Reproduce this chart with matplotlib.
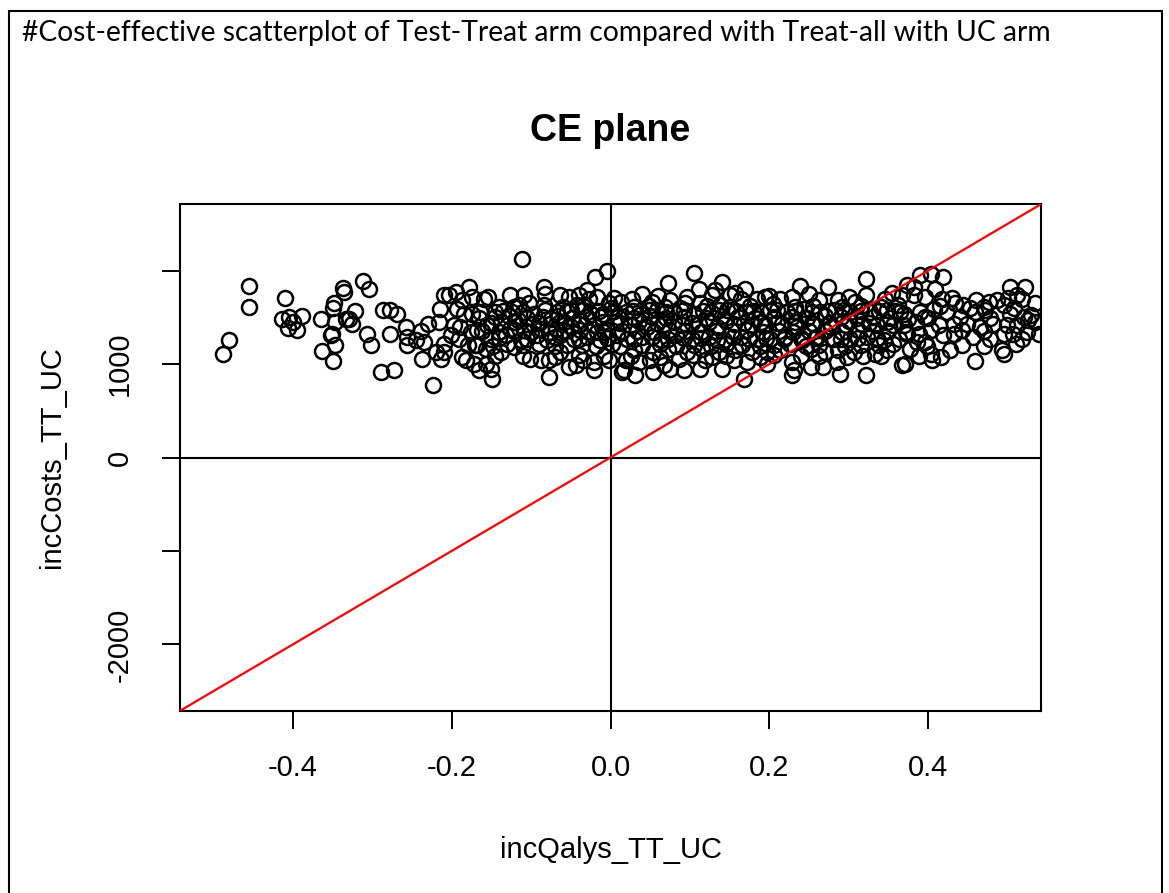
import matplotlib
matplotlib.use("Agg")
import matplotlib.pyplot as plt
from matplotlib.patches import Rectangle

# incremental QALYs / costs (left to right, band by band)
inc_qalys_left = [-0.455, -0.455, -0.480, -0.488, -0.410, -0.413, -0.405, -0.400, -0.406, -0.395,
                  -0.388, -0.365, -0.348, -0.349, -0.337, -0.335, -0.347, -0.351, -0.352, -0.347,
                  -0.363, -0.350, -0.333,
                  -0.312, -0.304, -0.322, -0.329, -0.325, -0.307, -0.302, -0.289, -0.273, -0.287,
                  -0.277, -0.269, -0.277, -0.258, -0.256, -0.256, -0.245, -0.238, -0.235, -0.237,
                  -0.230, -0.224, -0.220, -0.214, -0.215, -0.216, -0.210, -0.203, -0.195, -0.178,
                  -0.187, -0.193, -0.185, -0.174, -0.164, -0.197, -0.189, -0.201, -0.191, -0.176,
                  -0.168, -0.180, -0.170, -0.210, -0.187, -0.182, -0.172, -0.166, -0.159, -0.210]
inc_costs_left = [1836, 1605, 1262, 1112, 1708, 1479, 1504, 1450, 1386, 1369,
                  1515, 1479, 1648, 1600, 1815, 1766, 1450, 1326, 1315, 1201,
                  1136, 1029, 1479,
                  1890, 1798, 1568, 1479, 1433, 1326, 1208, 914, 940, 1583,
                  1583, 1540, 1326, 1397, 1290, 1201, 1254, 1351, 1236, 1058,
                  1433, 772, 1129, 1058, 1594, 1450, 1737, 1737, 1772, 1826,
                  1683, 1594, 1540, 1540, 1558, 1415, 1397, 1308, 1272, 1343,
                  1361, 1201, 1201, 1219, 1075, 1040, 1004, 933, 1701, 1129]

inc_qalys_mid = [-0.111, -0.019, -0.005, -0.154, -0.126, -0.109, -0.084, -0.082, -0.063, -0.052,
                 -0.030, -0.027, -0.017, -0.145, -0.122, -0.103, -0.084, -0.042, -0.002, 0.013,
                 -0.155, -0.138, -0.117, -0.098, -0.075, -0.059, -0.038, -0.021, 0.004, -0.151,
                 -0.132, -0.113, -0.092, -0.080, -0.063, -0.046, -0.029, -0.013, 0.008, -0.157,
                 -0.138, -0.122, -0.101, -0.088, -0.078, -0.063, -0.052, -0.044, -0.034, -0.021,
                 -0.002, -0.021, 0.015, -0.157, -0.151, -0.149, -0.078, -0.141, -0.126, -0.109,
                 -0.088, -0.069, -0.050, -0.038, -0.017, -0.004, -0.124, -0.096, -0.067, -0.050,
                 -0.025, -0.010,
                 0.105, 0.073, 0.111, 0.141, 0.132, 0.128, 0.157, 0.169, 0.164, 0.027,
                 0.052, 0.075, 0.096, 0.094, 0.113, 0.138, 0.185, 0.019, 0.038, 0.059,
                 0.080, 0.105, 0.126, 0.147, 0.170, 0.189, 0.025, 0.046, 0.067, 0.090,
                 0.111, 0.134, 0.155, 0.178, 0.021, 0.040, 0.063, 0.082, 0.103, 0.124,
                 0.143, 0.164, 0.185, 0.029, 0.054, 0.073, 0.096, 0.115, 0.136, 0.157,
                 0.178, 0.019, 0.036, 0.050, 0.067, 0.086, 0.119, 0.155, 0.172, 0.031,
                 0.054, 0.075, 0.092, 0.113, 0.141, 0.168, 0.017]
inc_costs_mid = [2123, 1926, 1994, 1718, 1737, 1737, 1826, 1744, 1737, 1718,
                 1790, 1701, 1718, 1558, 1611, 1648, 1629, 1629, 1648, 1665,
                 1415, 1450, 1469, 1433, 1487, 1450, 1469, 1415, 1450, 1272,
                 1308, 1254, 1308, 1254, 1308, 1272, 1290, 1254, 1308, 1165,
                 1129, 1182, 1058, 1040, 1040, 1129, 968, 986, 1040, 1022,
                 1040, 933, 914, 1004, 951, 844, 861, 1343, 1380, 1361,
                 1380, 1380, 1397, 1361, 1343, 1361, 1558, 1540, 1558, 1576,
                 1540, 1540,
                 1976, 1862, 1808, 1873, 1790, 1737, 1755, 1808, 1701, 1701,
                 1665, 1683, 1718, 1648, 1648, 1629, 1701, 1558, 1540, 1576,
                 1558, 1540, 1558, 1576, 1558, 1558, 1415, 1397, 1433, 1415,
                 1433, 1397, 1433, 1415, 1272, 1290, 1254, 1308, 1272, 1290,
                 1254, 1290, 1272, 1147, 1129, 1165, 1129, 1165, 1129, 1147,
                 1129, 1040, 1022, 1040, 986, 1058, 1040, 1040, 1022, 879,
                 914, 951, 933, 943, 943, 836, 933]

inc_qalys_right = [0.239, 0.274, 0.322, 0.322, 0.354, 0.195, 0.214, 0.229, 0.262, 0.287,
                   0.308, 0.201, 0.222, 0.243, 0.264, 0.283, 0.302, 0.327, 0.348, 0.365,
                   0.195, 0.216, 0.235, 0.256, 0.277, 0.296, 0.317, 0.335, 0.356, 0.201,
                   0.220, 0.241, 0.260, 0.281, 0.302, 0.323, 0.344, 0.363, 0.197, 0.214,
                   0.252, 0.270, 0.287, 0.306, 0.333, 0.348, 0.197, 0.229, 0.252, 0.268,
                   0.285, 0.231, 0.229, 0.289, 0.322,
                   0.390, 0.403, 0.419, 0.373, 0.382, 0.409, 0.503, 0.522, 0.512, 0.518,
                   0.535, 0.367, 0.382, 0.396, 0.417, 0.434, 0.444, 0.476, 0.486, 0.495,
                   0.369, 0.390, 0.407, 0.424, 0.459, 0.472, 0.503, 0.530, 0.369, 0.384,
                   0.396, 0.413, 0.432, 0.449, 0.465, 0.482, 0.499, 0.512, 0.526, 0.535,
                   0.373, 0.388, 0.403, 0.419, 0.432, 0.457, 0.478, 0.495, 0.507, 0.518,
                   0.539, 0.386, 0.396, 0.377, 0.403, 0.405, 0.428, 0.493, 0.495, 0.459,
                   0.371, 0.367]
inc_costs_right = [1836, 1819, 1908, 1737, 1755, 1718, 1701, 1718, 1683, 1683,
                   1665, 1576, 1558, 1594, 1558, 1576, 1558, 1558, 1576, 1558,
                   1415, 1433, 1397, 1433, 1397, 1415, 1433, 1415, 1415, 1272,
                   1290, 1254, 1290, 1272, 1272, 1290, 1254, 1272, 1129, 1147,
                   1165, 1129, 1147, 1129, 1112, 1147, 1004, 1022, 968, 968,
                   1022, 933, 879, 897, 879,
                   1951, 1959, 1933, 1844, 1826, 1808, 1826, 1826, 1737, 1701,
                   1648, 1737, 1737, 1718, 1701, 1648, 1629, 1665, 1683, 1629,
                   1540, 1558, 1594, 1558, 1558, 1576, 1540, 1522, 1415, 1450,
                   1504, 1415, 1433, 1433, 1397, 1433, 1415, 1415, 1469, 1450,
                   1326, 1326, 1361, 1308, 1326, 1290, 1272, 1326, 1326, 1272,
                   1326, 1236, 1236, 1165, 1112, 1040, 1147, 1147, 1112, 1029,
                   1004, 986]

# the solid-looking core of the cloud, where single circles cannot be told apart
inc_qalys_core = [-0.140, -0.115, -0.060, -0.035, 0.000, 0.030, 0.048, 0.068, 0.088, 0.122,
                  0.150, 0.176, 0.205, 0.232, 0.255, 0.292, 0.315, 0.340, 0.362, 0.415,
                  0.452, 0.470, 0.508,
                  -0.165, -0.145, -0.128, -0.105, -0.085, -0.066, -0.048, -0.030, -0.012, 0.010,
                  0.030, 0.050, 0.070, 0.092, 0.120, 0.140, 0.160, 0.182, 0.206, 0.228,
                  0.248, 0.270, 0.290, 0.310, 0.330, 0.352, 0.375, 0.400, 0.440, 0.478,
                  0.520,
                  -0.162, -0.120, -0.100, -0.078, -0.058, -0.028, -0.008, 0.014, 0.033, 0.055,
                  0.074, 0.094, 0.114, 0.133, 0.153, 0.172, 0.192, 0.212, 0.230, 0.250,
                  0.270, 0.292, 0.312, 0.330, 0.350, 0.372, 0.442, 0.470, 0.525,
                  -0.168, -0.148, -0.130, -0.110, -0.090, -0.070, -0.055, -0.036, -0.018, 0.002,
                  0.012, 0.040, 0.062, 0.083, 0.105, 0.126, 0.146, 0.166, 0.188, 0.206,
                  0.226, 0.246, 0.262, 0.295, 0.315, 0.338, 0.356, 0.398, 0.442, 0.470,
                  0.510,
                  -0.145, -0.110, -0.070, -0.040, -0.008, 0.026, 0.062, 0.104, 0.128, 0.146,
                  0.188, 0.206, 0.240, 0.262, 0.298, 0.318, 0.340, 0.388, 0.416,
                  -0.175, -0.040, 0.005, 0.040, 0.060, 0.150, 0.200, 0.250, 0.300, 0.345,
                  0.430, 0.460, 0.500,
                  -0.150, -0.120, -0.090, -0.064, -0.040, -0.010, 0.012, 0.036, 0.058, 0.080,
                  0.102, 0.124, 0.146, 0.168, 0.190, 0.210, 0.232, 0.254, 0.276, 0.300,
                  0.325, 0.348,
                  -0.140, -0.105, -0.070, -0.040, -0.005, 0.030, 0.052, 0.072, 0.092, 0.114,
                  0.134, 0.154, 0.174, 0.196, 0.218, 0.240, 0.258, 0.290, 0.312, 0.335,
                  -0.135, -0.110, -0.082, -0.055, -0.035, -0.015, 0.005, 0.028, 0.048, 0.070,
                  0.092, 0.116, 0.136, 0.158, 0.180, 0.210, 0.232, 0.254, 0.274, 0.294,
                  0.315, 0.338, 0.358]
inc_costs_core = [1615, 1630, 1605, 1620, 1600, 1612, 1625, 1608, 1598, 1618,
                  1606, 1622, 1640, 1612, 1624, 1610, 1618, 1605, 1630, 1620,
                  1600, 1612, 1595,
                  1495, 1505, 1510, 1488, 1500, 1515, 1492, 1508, 1498, 1502,
                  1490, 1512, 1496, 1505, 1492, 1510, 1498, 1488, 1506, 1500,
                  1494, 1512, 1502, 1490, 1508, 1496, 1485, 1492, 1500, 1488,
                  1505,
                  1350, 1360, 1345, 1342, 1355, 1348, 1340, 1358, 1352, 1345,
                  1362, 1350, 1340, 1356, 1348, 1362, 1345, 1352, 1340, 1358,
                  1350, 1345, 1360, 1348, 1355, 1342, 1360, 1350, 1345,
                  1205, 1195, 1210, 1200, 1215, 1192, 1208, 1202, 1196, 1210,
                  1188, 1205, 1212, 1198, 1204, 1195, 1210, 1200, 1190, 1208,
                  1215, 1198, 1204, 1192, 1206, 1200, 1212, 1198, 1205, 1195,
                  1210,
                  1085, 1090, 1078, 1095, 1082, 1088, 1075, 1092, 1080, 1086,
                  1078, 1094, 1082, 1088, 1076, 1090, 1082, 1086, 1080,
                  1720, 1735, 1710, 1745, 1725, 1740, 1730, 1745, 1720, 1700,
                  1710, 1690, 1705,
                  1440, 1452, 1436, 1445, 1430, 1448, 1438, 1455, 1442, 1450,
                  1435, 1446, 1458, 1440, 1448, 1436, 1452, 1444, 1438, 1456,
                  1442, 1448,
                  1280, 1270, 1285, 1265, 1278, 1272, 1286, 1268, 1280, 1275,
                  1262, 1284, 1270, 1278, 1266, 1282, 1274, 1268, 1280, 1276,
                  1570, 1560, 1575, 1565, 1580, 1562, 1572, 1568, 1578, 1560,
                  1574, 1566, 1582, 1564, 1570, 1576, 1568, 1560, 1572, 1580,
                  1566, 1570, 1562]

inc_qalys = inc_qalys_left + inc_qalys_mid + inc_qalys_right + inc_qalys_core
inc_costs = inc_costs_left + inc_costs_mid + inc_costs_right + inc_costs_core
assert len(inc_qalys) == len(inc_costs)

wtp = 5000  # slope of the threshold line
x_lim = (-0.542, 0.542)
y_lim = (-2712, 2712)
y_ticks = [-2000, -1000, 0, 1000, 2000]
y_tick_labels = ["-2000", "", "0", "1000", ""]
x_ticks = [-0.4, -0.2, 0.0, 0.2, 0.4]
x_tick_labels = ["-0.4", "-0.2", "0.0", "0.2", "0.4"]

W, H = 1169, 893
fig = plt.figure(figsize=(W / 100, H / 100), dpi=100)
ax = fig.add_axes([180 / W, 1 - 711 / H, (1041 - 180) / W, (711 - 204) / H])

ax.plot(inc_qalys, inc_costs, linestyle="none", marker="o", markersize=10.8,
        markerfacecolor="none", markeredgecolor="black", markeredgewidth=1.8, zorder=2)
ax.axvline(0, color="black", lw=1.5, zorder=3)
ax.axhline(0, color="black", lw=1.5, zorder=3)
ax.axline((0, 0), slope=wtp, color="red", lw=1.6, zorder=4)

ax.set_xlim(*x_lim)
ax.set_ylim(*y_lim)
ax.set_xticks(x_ticks)
ax.set_xticklabels(x_tick_labels)
ax.set_yticks(y_ticks)
ax.set_yticklabels(y_tick_labels, rotation=90, va="center")

font = "Liberation Sans"
ax.tick_params(axis="both", direction="out", length=13, width=1.4, labelsize=21,
               color="black")
ax.tick_params(axis="x", pad=18)
ax.tick_params(axis="y", pad=20)
for lab in ax.get_xticklabels() + ax.get_yticklabels():
    lab.set_fontfamily(font)
for s in ax.spines.values():
    s.set_linewidth(1.5)

ax.set_xlabel("incQalys_TT_UC", fontsize=21, family=font)
ax.xaxis.set_label_coords(0.5, (711 - 850) / 507)
ax.xaxis.label.set_va("center")
ax.set_ylabel("incCosts_TT_UC", fontsize=21, family=font)
ax.yaxis.set_label_coords((52 - 180) / 861, 0.5)
ax.yaxis.label.set_va("center")

fig.text(610 / W, 1 - 131 / H, "CE plane", fontsize=27, fontweight="bold",
         family=font, ha="center", va="center")
fig.text(22 / W, 1 - 33 / H,
         "#Cost-effective scatterplot of Test-Treat arm compared with Treat-all with UC arm",
         fontsize=20.3, family="Lato", ha="left", va="center")

# frame around the whole snippet
fig.add_artist(Rectangle((9 / W, -0.1), (1162 - 9) / W, 1.1 - 11 / H, transform=fig.transFigure,
                         fill=False, edgecolor="black", lw=1.5))

fig.savefig("out.png", dpi=100)
